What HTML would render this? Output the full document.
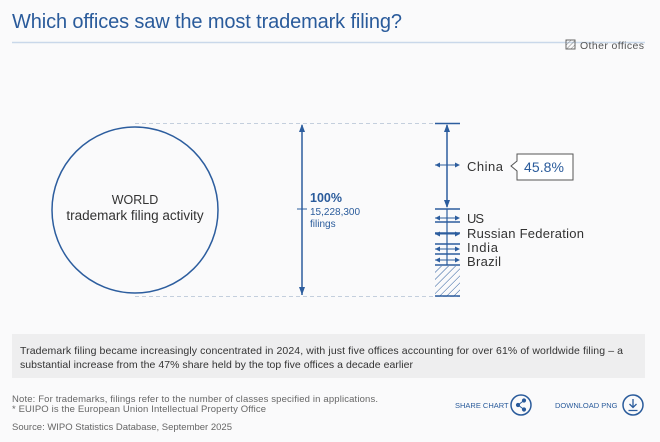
<!DOCTYPE html>
<html><head><style>
body{margin:0;background:#fafafb;font-family:"Liberation Sans","DejaVu Sans",sans-serif;}
svg{display:block}
</style></head><body>
<svg width="660" height="442" viewBox="0 0 660 442" xmlns="http://www.w3.org/2000/svg" font-family="Liberation Sans, DejaVu Sans, sans-serif">
<defs><pattern id="h" width="5" height="5" patternUnits="userSpaceOnUse" patternTransform="rotate(45)"><line x1="0" y1="0" x2="0" y2="5" stroke="#2c5d9e" stroke-width="1"/></pattern>
<pattern id="h2" width="3" height="3" patternUnits="userSpaceOnUse" patternTransform="rotate(45)"><line x1="0" y1="0" x2="0" y2="3" stroke="#666" stroke-width="0.8"/></pattern></defs>
<rect width="660" height="442" fill="#fafafb"/>
<text x="12" y="28" font-size="20" fill="#2a5b9b" textLength="390">Which offices saw the most trademark filing?</text>
<line x1="12" y1="42.5" x2="645" y2="42.5" stroke="#c9d8ea" stroke-width="1.5"/>
<rect x="566" y="40" width="9" height="9" fill="url(#h2)" stroke="#666" stroke-width="1"/>
<text x="580" y="49" font-size="10.5" fill="#555" textLength="64">Other offices</text>
<line x1="135" y1="123.5" x2="460" y2="123.5" stroke="#c4cfdd" stroke-dasharray="4,3"/>
<line x1="135" y1="296.5" x2="460" y2="296.5" stroke="#c4cfdd" stroke-dasharray="4,3"/>
<circle cx="135" cy="210" r="83" fill="#fafafb" stroke="#2c5d9e" stroke-width="1.5"/>
<text x="135" y="204" font-size="12.5" fill="#333" text-anchor="middle">WORLD</text>
<text x="135" y="220" font-size="13.5" fill="#333" text-anchor="middle">trademark filing activity</text>
<g stroke="#2c5d9e" stroke-width="1.5" fill="#2c5d9e">
<line x1="302" y1="125" x2="302" y2="295"/>
<path d="M302 124 l-3 8 h6z" stroke="none"/><path d="M302 295 l-3 -8 h6z" stroke="none"/>
<line x1="297" y1="209" x2="307" y2="209" stroke-width="1"/>
</g>
<text x="310" y="202" font-size="12.5" font-weight="bold" fill="#2a5b9b">100%</text>
<text x="310" y="215" font-size="10" fill="#2a5b9b">15,228,300</text>
<text x="310" y="227" font-size="10" fill="#2a5b9b">filings</text>
<g stroke="#2c5d9e" stroke-width="1.5" fill="#2c5d9e">
<line x1="435" y1="123.5" x2="460" y2="123.5"/>
<line x1="447" y1="125" x2="447" y2="207"/>
<path d="M447 124 l-3 8 h6z M447 208 l-3 -8 h6z" stroke="none"/>
<line x1="435" y1="165" x2="459" y2="165" stroke-width="1"/>
<path d="M435 165 l5 -2.5 v5z M460 165 l-5 -2.5 v5z" stroke="none"/>
<line x1="435" y1="209" x2="460" y2="209"/>
<line x1="435" y1="222" x2="460" y2="222"/>
<line x1="435" y1="233" x2="460" y2="233"/>
<line x1="435" y1="244" x2="460" y2="244"/>
<line x1="435" y1="254" x2="460" y2="254"/>
<line x1="435" y1="265" x2="460" y2="265"/>
<line x1="447" y1="209" x2="447" y2="265" stroke-width="1.2"/>
<g stroke-width="1">
<line x1="435" y1="218" x2="459" y2="218"/><line x1="435" y1="234" x2="459" y2="234"/><line x1="435" y1="249" x2="459" y2="249"/><line x1="435" y1="260" x2="459" y2="260"/>
</g>
<path d="M435 218 l5 -2.5 v5z M460 218 l-5 -2.5 v5z M435 234 l5 -2.5 v5z M460 234 l-5 -2.5 v5z M435 249 l5 -2.5 v5z M460 249 l-5 -2.5 v5z M435 260 l5 -2.5 v5z M460 260 l-5 -2.5 v5z" stroke="none"/>
</g>
<rect x="435" y="266" width="25" height="30" fill="url(#h)"/>
<line x1="435" y1="296" x2="460" y2="296" stroke="#2c5d9e" stroke-width="1.5"/>
<g font-size="13" fill="#333">
<text x="467" y="171" textLength="36">China</text>
<text x="467" y="223" textLength="17">US</text>
<text x="467" y="238" textLength="117">Russian Federation</text>
<text x="467" y="252" textLength="31">India</text>
<text x="467" y="266" textLength="34">Brazil</text>
</g>
<path d="M517 154 H573 V180 H517 V171 L511 166 L517 161 Z" fill="#fff" stroke="#555" stroke-width="1"/>
<text x="524" y="172" font-size="14" fill="#2a5b9b" textLength="40">45.8%</text>
<rect x="12" y="334" width="633" height="44" fill="#eeeeef"/>
<text x="20" y="354" font-size="10.5" fill="#333" textLength="603">Trademark filing became increasingly concentrated in 2024, with just five offices accounting for over 61% of worldwide filing – a</text>
<text x="20" y="368" font-size="10.5" fill="#333" textLength="393">substantial increase from the 47% share held by the top five offices a decade earlier</text>
<text x="12" y="402" font-size="9.5" fill="#666" textLength="366">Note: For trademarks, filings refer to the number of classes specified in applications.</text>
<text x="12" y="412" font-size="9.5" fill="#666" textLength="254">* EUIPO is the European Union Intellectual Property Office</text>
<text x="12" y="430" font-size="9.5" fill="#666" textLength="220">Source: WIPO Statistics Database, September 2025</text>
<text x="455" y="408" font-size="7.5" fill="#2a5b9b">SHARE CHART</text>
<circle cx="521" cy="405" r="10" fill="none" stroke="#2a5b9b" stroke-width="1.5"/>
<g fill="#2a5b9b" stroke="#2a5b9b" stroke-width="1"><circle cx="524" cy="400.5" r="1.6"/><circle cx="518" cy="405" r="1.6"/><circle cx="524" cy="409.5" r="1.6"/><path d="M524 400.5 L518 405 L524 409.5" fill="none"/></g>
<text x="555" y="408" font-size="7.5" fill="#2a5b9b">DOWNLOAD PNG</text>
<circle cx="633" cy="405" r="10" fill="none" stroke="#2a5b9b" stroke-width="1.5"/>
<path d="M633 399 V407 M629.5 404 L633 407.5 L636.5 404 M628.5 410.5 H637.5" fill="none" stroke="#2a5b9b" stroke-width="1.3"/>
</svg>
</body></html>
